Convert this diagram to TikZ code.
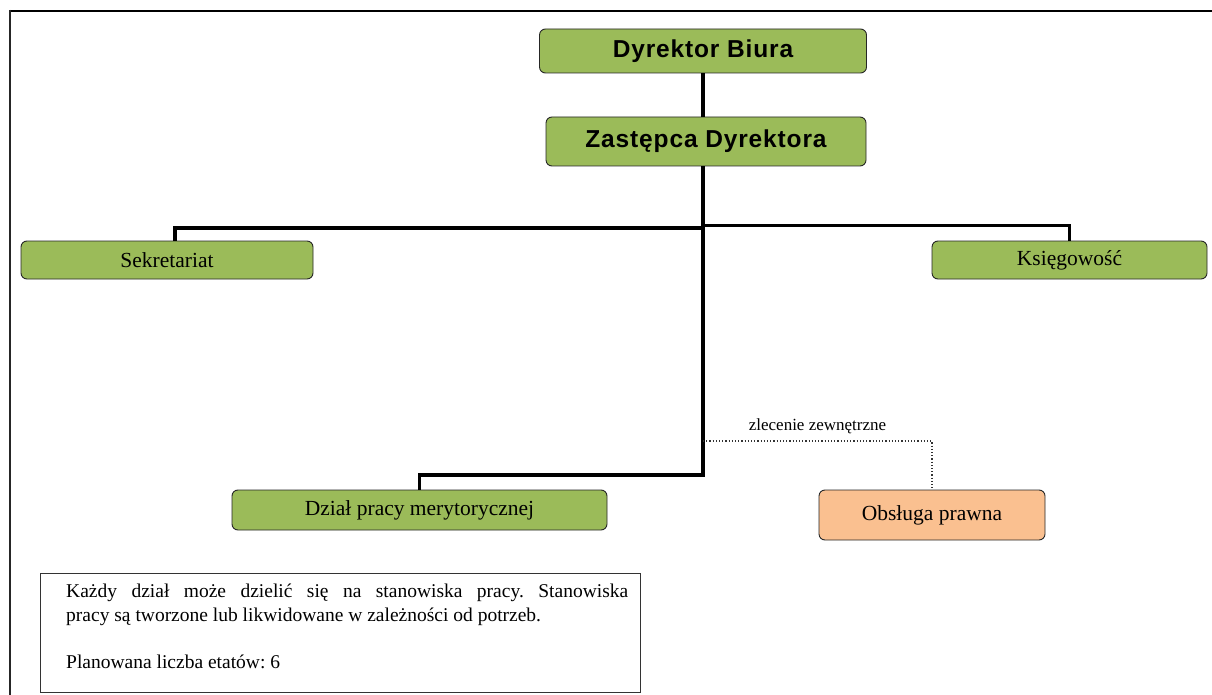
\documentclass[tikz,border=0pt]{standalone}
\usepackage{fontspec}
\setmainfont{Liberation Serif}
\newfontfamily\arialb[LetterSpace=3.5]{Liberation Sans}
\begin{document}
\begin{tikzpicture}[x=1pt,y=-1pt,
  box/.style={draw=black!85, line width=0.9pt, rounded corners=6pt, inner sep=0pt, anchor=center, align=center},
  green/.style={box, fill=boxgreen},
  orange/.style={box, fill=boxorange},
  conn/.style={line width=3.5pt, black},
  dotline/.style={line width=1.2pt, dotted, black!80},
  ser/.style={font=\fontsize{21.5}{24}\selectfont},
  bold/.style={font=\arialb\bfseries\fontsize{24.5}{28}\selectfont}]
\definecolor{boxgreen}{HTML}{9BBB59}
\definecolor{boxorange}{HTML}{FAC090}
\useasboundingbox (0,0) rectangle (1212,695);
\fill[white] (0,0) rectangle (1212,695);
% outer frame
\draw[line width=2.5pt] (1212,11) -- (10,11);
\draw[line width=1.6pt, black!85] (10,10) -- (10,695);

\node[green, bold, minimum width=327pt, minimum height=44pt] (dyr) at (703,51) {\raisebox{-3pt}{Dyrektor Biura}};
\node[green, bold, minimum width=320pt, minimum height=49pt] (zas) at (706,141.5) {\raisebox{-2pt}{Zastępca Dyrektora}};
\node[green, ser, minimum width=292pt, minimum height=38pt] (sek) at (167,260) {Sekretariat};
\node[green, ser, minimum width=275pt, minimum height=38pt] (ksi) at (1069.5,260) {Księgowość};
\node[green, ser, minimum width=375pt, minimum height=40pt] (dzial) at (419.5,510) {Dział pracy merytorycznej};
\node[orange, ser, minimum width=226pt, minimum height=50pt] (obs) at (932,515) {Obsługa prawna};

\node[draw=black!80, line width=1pt, minimum width=600pt, minimum height=119pt, inner sep=0pt] (note) at (340,632.5) {};
\node[anchor=north west, align=justify, text width=562pt, inner sep=0pt,
      font=\fontsize{19.5}{23.5}\selectfont\frenchspacing] (notetext) at (66,584)
  {Każdy dział może dzielić się na stanowiska pracy. Stanowiska\linebreak pracy są tworzone lub likwidowane w zależności od potrzeb.\\[23.5pt]
   Planowana liczba etatów: 6};

\coordinate (jl) at (703,228);
\coordinate (jr) at (703,225.5);
\coordinate (jd) at (703,475);
\coordinate (jo) at (703,441);

\draw[conn] (dyr.south) -- (dyr.south |- zas.north);
\draw[conn] (dyr.south |- zas.south) -- (jd) -| (dzial.north);
\draw[conn] (jl) -| ([xshift=8pt]sek.north);
\draw[conn] (jr) -| (ksi.north);
\draw[dotline] (jo) -| node[pos=0.25, above=3pt, font=\fontsize{17}{19}\selectfont, black] {zlecenie zewnętrzne} (obs.north);
\end{tikzpicture}
\end{document}
